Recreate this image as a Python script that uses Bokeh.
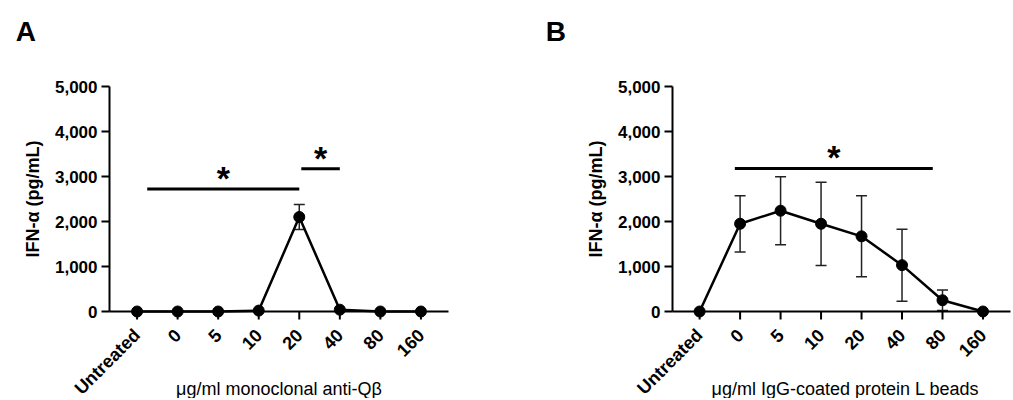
import math
from bokeh.plotting import figure
from bokeh.layouts import row
from bokeh.models import (Range1d, FixedTicker, NumeralTickFormatter,
                          Whisker, ColumnDataSource, TeeHead)
from bokeh.embed import file_html
from bokeh.resources import INLINE
from bokeh.core.properties import value

# ---------------- data ----------------
categories = ["Untreated", "0", "5", "10", "20", "40", "80", "160"]
a_mean = [0, 0, 0, 20, 2100, 40, 0, 0]
a_err = [0, 0, 0, 0, 280, 0, 0, 0]
b_mean = [0, 1950, 2240, 1950, 1670, 1030, 250, 0]
b_err = [0, 625, 755, 925, 900, 800, 230, 0]
y_ticks = [0, 1000, 2000, 3000, 4000, 5000]

# significance bars (x in category index units, y in pg/mL)
a_sig_x0 = [0.25, 4.05]
a_sig_x1 = [4.0, 5.0]
a_sig_y = [2720, 3170]
b_sig_x0 = [0.87]
b_sig_x1 = [5.76]
b_sig_y = [3180]

a_xlabel = "μg/ml monoclonal anti-Qβ"
b_xlabel = "μg/ml IgG-coated protein L beads"
y_label = "IFN-α (pg/mL)"

FONT = "Liberation Sans"


def panel(letter, mean, err, sig_x0, sig_x1, sig_y, xlabel, width,
          border_left, border_right, x_start, x_end, title_x, letter_x):
    p = figure(width=width, height=398,
               x_range=Range1d(x_start, x_end), y_range=Range1d(0, 5000),
               output_backend="svg", toolbar_location=None,
               min_border_left=border_left, min_border_right=border_right,
               min_border_top=86, min_border_bottom=87)
    p.outline_line_color = None
    p.grid.visible = False
    p.background_fill_color = "white"
    p.border_fill_color = "white"

    xs = list(range(len(categories)))

    # axes
    for ax in (p.xaxis[0], p.yaxis[0]):
        ax.axis_line_width = 2
        ax.axis_line_color = "black"
        ax.major_tick_line_width = 2
        ax.major_tick_line_color = "black"
        ax.major_tick_out = 8
        ax.major_tick_in = 0
        ax.minor_tick_out = 0
        ax.minor_tick_in = 0
        ax.major_label_text_font = FONT
        ax.major_label_text_font_style = "bold"
        ax.major_label_text_color = "black"

    p.yaxis.major_label_text_font_size = "17px"
    p.yaxis.ticker = FixedTicker(ticks=y_ticks, minor_ticks=[])
    p.yaxis.formatter = NumeralTickFormatter(format="0,0")
    p.yaxis.major_label_standoff = 4
    p.yaxis.axis_label = y_label
    p.yaxis.axis_label_text_font = FONT
    p.yaxis.axis_label_text_font_style = "bold"
    p.yaxis.axis_label_text_font_size = "18px"
    p.yaxis.axis_label_text_color = "black"
    p.yaxis.axis_label_standoff = 9

    # x axis: line from Bokeh, category ticks and rotated labels drawn as glyphs
    p.xaxis.ticker = FixedTicker(ticks=[], minor_ticks=[])
    p.segment(x0=xs, y0=[0] * len(xs), x1=xs, y1=[-178] * len(xs),
              line_width=2, line_color="black", level="overlay")
    p.text(x=xs, y=[-455] * len(xs), text=categories, angle=math.pi / 4,
           text_align="right", text_baseline="middle", text_font=value(FONT),
           text_font_style="bold", text_font_size="18px", text_color="black",
           level="overlay")

    # error bars
    idx = [i for i, e in enumerate(err) if e > 0]
    wsrc = ColumnDataSource(dict(
        x=[xs[i] for i in idx],
        upper=[mean[i] + err[i] for i in idx],
        lower=[mean[i] - err[i] for i in idx]))
    p.add_layout(Whisker(source=wsrc, base="x", upper="upper", lower="lower",
                         line_width=1.5, line_color="#222222",
                         upper_head=TeeHead(size=11, line_width=1.5, line_color="#222222"),
                         lower_head=TeeHead(size=11, line_width=1.5, line_color="#222222")))

    # mean line + points
    src = ColumnDataSource(dict(x=xs, y=mean))
    p.line("x", "y", source=src, line_width=2.5, line_color="black", level="overlay")
    p.scatter("x", "y", source=src, size=11, fill_color="black",
              line_color="black", level="overlay")

    # significance bars + stars
    p.segment(x0=sig_x0, y0=sig_y, x1=sig_x1, y1=sig_y, line_width=3,
              line_color="black", level="overlay")
    star_x = [(a + b) / 2 for a, b in zip(sig_x0, sig_x1)]
    star_y = [y + 250 for y in sig_y]
    p.text(x=star_x, y=star_y, text=["*"] * len(star_x),
           text_font=value(FONT), text_font_style="bold", text_font_size="34px",
           text_align="center", text_baseline="alphabetic", text_color="black",
           level="overlay")

    # x-axis title
    p.text(x=[title_x], y=[-1733], text=[xlabel], text_align="center",
           text_baseline="middle", text_font=value(FONT),
           text_font_size="18px", text_color="black", level="overlay")
    # panel letter
    p.text(x=[letter_x], y=[6230], text=[letter], text_align="left",
           text_baseline="alphabetic", text_font=value(FONT),
           text_font_style="bold", text_font_size="28px",
           text_color="black", level="overlay")
    return p


pA = panel("A", a_mean, a_err, a_sig_x0, a_sig_x1, a_sig_y, a_xlabel,
           width=505, border_left=109, border_right=57,
           x_start=-0.68, x_end=7.68, title_x=3.5, letter_x=-2.995)
pB = panel("B", b_mean, b_err, b_sig_x0, b_sig_x1, b_sig_y, b_xlabel,
           width=507, border_left=167, border_right=2,
           x_start=-0.67, x_end=7.68, title_x=3.6, letter_x=-3.80)

layout = row(pA, pB)
open("out.html", "w").write(file_html(layout, INLINE))
